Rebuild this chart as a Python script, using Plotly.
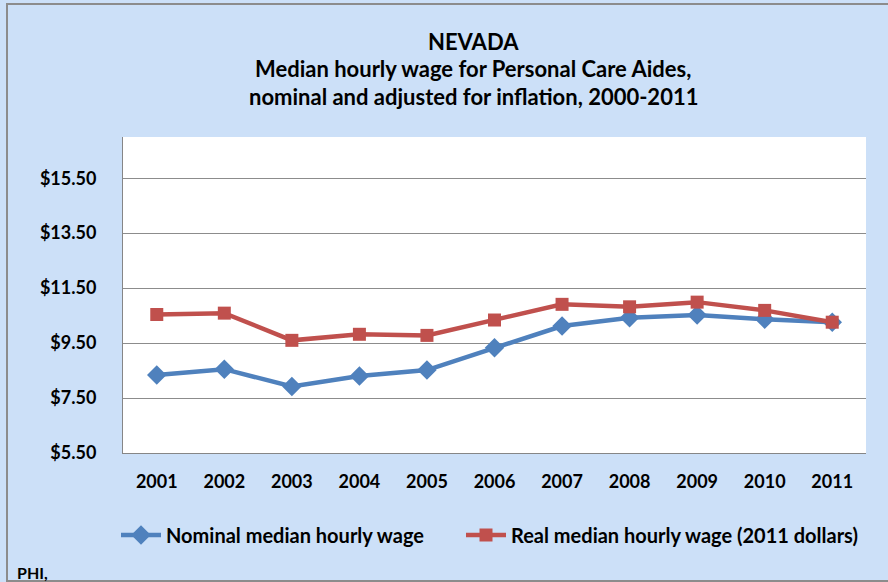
import plotly.graph_objects as go

# Median hourly wage, Personal Care Aides, Nevada
years = ["2001", "2002", "2003", "2004", "2005", "2006",
         "2007", "2008", "2009", "2010", "2011"]
nominal_wage = [8.34, 8.55, 7.92, 8.30, 8.52, 9.33, 10.12, 10.42, 10.52, 10.37, 10.26]
real_wage = [10.54, 10.59, 9.60, 9.82, 9.78, 10.34, 10.91, 10.82, 10.99, 10.69, 10.26]
y_ticks = [5.5, 7.5, 9.5, 11.5, 13.5, 15.5]
title_lines = [
    "NEVADA",
    "Median hourly wage for Personal Care Aides,",
    "nominal and adjusted for inflation, 2000-2011",
]

BLUE = "#4F81BD"
RED = "#C0504D"
BG = "#CCE0F8"
FONT = "Lato, 'Open Sans', sans-serif"

W, H = 888, 582
ML, MR, MT, MB = 123, 22, 137, 129
PW, PH = W - ML - MR, H - MT - MB


def px_x(px):
    return (px - ML) / PW


def px_y(px):
    return (MT + PH - px) / PH


fig = go.Figure()
fig.add_trace(go.Scatter(
    x=years, y=nominal_wage, mode="lines+markers",
    name="<b>Nominal median hourly wage</b>",
    line=dict(color=BLUE, width=4.5),
    marker=dict(symbol="diamond", size=15, color=BLUE),
    legend="legend",
))
fig.add_trace(go.Scatter(
    x=years, y=real_wage, mode="lines+markers",
    name="<b>Real median hourly wage (2011 dollars)</b>",
    line=dict(color=RED, width=4.5),
    marker=dict(symbol="square", size=13, color=RED),
    legend="legend2",
))

legend_common = dict(
    orientation="h", xanchor="left", y=px_y(535), yanchor="middle",
    font=dict(size=20, family=FONT),
    bgcolor="rgba(0,0,0,0)", itemwidth=40,
)

fig.update_layout(
    width=W, height=H,
    margin=dict(l=ML, r=MR, t=MT, b=MB),
    paper_bgcolor=BG,
    plot_bgcolor="white",
    font=dict(family=FONT, color="black"),
    showlegend=True,
    legend=dict(legend_common, x=px_x(116)),
    legend2=dict(legend_common, x=px_x(461)),
    xaxis=dict(
        type="category", range=[-0.5, 10.5],
        showgrid=False, showline=True, linecolor="#868686", linewidth=1,
        ticks="", tickfont=dict(size=18, family=FONT),
        ticklabelstandoff=12,
    ),
    yaxis=dict(
        range=[5.5, 17.0], tickvals=y_ticks,
        ticktext=[f"<b>${v:.2f}</b>" for v in y_ticks],
        showgrid=True, gridcolor="#8C8C8C", gridwidth=1,
        showline=True, linecolor="#868686", linewidth=1,
        zeroline=False, ticks="",
        tickfont=dict(size=18, family=FONT),
        ticklabelstandoff=22,
    ),
)
fig.update_xaxes(ticktext=[f"<b>{y}</b>" for y in years], tickvals=years)

# chart title, one line per annotation
for text, cy in zip(title_lines, [42, 69, 96]):
    fig.add_annotation(
        text=f"<b>{text}</b>", xref="paper", yref="paper",
        x=px_x(473), xanchor="center", y=px_y(cy), yanchor="middle",
        showarrow=False, font=dict(size=22, family=FONT),
    )

# outer chart frame
fig.add_shape(
    type="rect", xref="paper", yref="paper",
    x0=px_x(7), x1=px_x(W + 5), y0=px_y(H - 1), y1=px_y(4),
    line=dict(color="#8C8C8C", width=2), fillcolor="rgba(0,0,0,0)",
    layer="below",
)

fig.add_annotation(
    text="<b>PHI,</b>", xref="paper", yref="paper",
    x=px_x(15), xanchor="left", y=px_y(572), yanchor="middle",
    showarrow=False, font=dict(size=16, family=FONT),
)

fig.write_html("out.html")
